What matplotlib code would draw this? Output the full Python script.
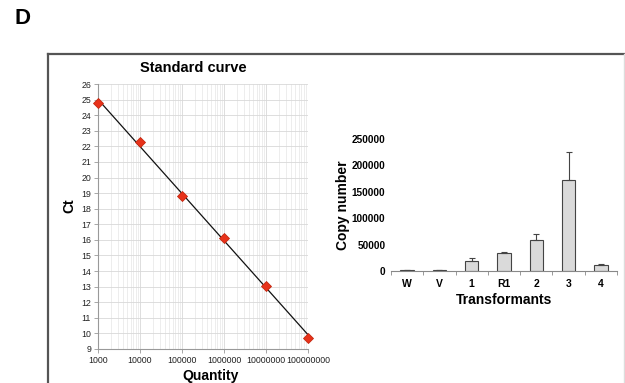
import numpy as np
import matplotlib
matplotlib.use("Agg")
import matplotlib.pyplot as plt
from matplotlib.lines import Line2D
from matplotlib.ticker import LogLocator, FixedLocator, NullFormatter

plt.rcParams['font.family'] = ['Liberation Sans', 'DejaVu Sans']

# Standard curve data
quantity = [1e3, 1e4, 1e5, 1e6, 1e7, 1e8]
ct = [24.78, 22.28, 18.82, 16.13, 13.05, 9.72]
quantity_labels = ['1000', '10000', '100000', '1000000', '10000000', '100000000']

# Bar chart data
transformants = ['W', 'V', '1', 'R1', '2', '3', '4']
copy_number = [2000, 1500, 19500, 33500, 58000, 172000, 10500]
copy_err = [300, 300, 5000, 2000, 12500, 53000, 3000]

fig = plt.figure(figsize=(6.25, 3.83), dpi=100)

# Panel letter
fig.text(15/625, 1-18/383, 'D', fontsize=16, fontweight='bold', ha='left', va='center')

# Border box
fig.add_artist(Line2D([48/625, 48/625], [-0.05, 1-54/383], transform=fig.transFigure,
                      color='#555555', lw=1.6))
fig.add_artist(Line2D([48/625, 1.0], [1-54/383, 1-54/383], transform=fig.transFigure,
                      color='#555555', lw=1.6))
fig.add_artist(Line2D([623.5/625, 623.5/625], [-0.05, 1-54/383], transform=fig.transFigure,
                      color='#dddddd', lw=1.0))

# Left: standard curve
ax1 = fig.add_axes([98/625, 1-349/383, 210/625, 265/383])
ax1.set_xscale('log')
ax1.set_xlim(1e3, 1e8)
ax1.set_ylim(9, 26)
ax1.set_yticks(range(9, 27))
ax1.xaxis.set_major_locator(FixedLocator(quantity))
ax1.set_xticklabels(quantity_labels)
ax1.xaxis.set_minor_locator(LogLocator(base=10, subs=np.arange(2, 10)))
ax1.xaxis.set_minor_formatter(NullFormatter())
ax1.grid(True, which='major', color='#d8d8d8', lw=0.6)
ax1.grid(True, which='minor', axis='x', color='#e6e6e6', lw=0.5)
ax1.set_axisbelow(True)
for s in ['top', 'right']:
    ax1.spines[s].set_visible(False)
for s in ['left', 'bottom']:
    ax1.spines[s].set_color('#999999')
    ax1.spines[s].set_linewidth(0.8)
ax1.tick_params(axis='both', which='major', labelsize=6.3, colors='#999999',
                labelcolor='#222222', length=3, width=0.6, pad=2)
ax1.tick_params(axis='x', which='minor', length=0)

lx = np.log10(quantity)
coef = np.polyfit(lx, ct, 1)
xx = np.array([1e3, 1e8])
ax1.plot(xx, np.polyval(coef, np.log10(xx)), color='#111111', lw=0.9, zorder=3)
ax1.plot(quantity, ct, linestyle='none', marker='D', markersize=5.5,
         markerfacecolor='#e8321a', markeredgecolor='#c42810', markeredgewidth=0.6,
         zorder=4, clip_on=False)

ax1.set_title('Standard curve', fontsize=10.5, fontweight='bold', pad=9, x=0.452)
ax1.set_ylabel('Ct', fontsize=10, fontweight='bold')
ax1.yaxis.set_label_coords(-0.105, 0.54)
ax1.set_xlabel('Quantity', fontsize=10, fontweight='bold')
ax1.xaxis.set_label_coords(0.538, -20/265)

# Right: bar chart
ax2 = fig.add_axes([391/625, 1-271/383, 226/625, 132/383])
x = np.arange(len(transformants))
ax2.bar(x, copy_number, width=0.42, color='#dadada', edgecolor='#444444', linewidth=0.8,
        yerr=[np.zeros(len(copy_err)), copy_err],
        error_kw=dict(ecolor='#444444', elinewidth=0.8, capsize=2.5, capthick=0.8))
ax2.set_xlim(-0.5, len(transformants) - 0.5)
ax2.set_ylim(0, 250000)
ax2.set_yticks(range(0, 250001, 50000))
ax2.set_xticks(x)
ax2.set_xticklabels(transformants)
ax2.set_xticks(np.arange(-0.5, len(transformants), 1.0), minor=True)
for s in ['top', 'right', 'left']:
    ax2.spines[s].set_visible(False)
ax2.spines['bottom'].set_color('#888888')
ax2.spines['bottom'].set_linewidth(0.8)
ax2.tick_params(axis='x', which='major', length=0, labelsize=7.5, pad=6)
ax2.tick_params(axis='x', which='minor', length=3, width=0.6, color='#888888')
ax2.tick_params(axis='y', length=0, labelsize=7.2, pad=4)
for lab in ax2.get_xticklabels() + ax2.get_yticklabels():
    lab.set_fontweight('bold')
ax2.set_ylabel('Copy number', fontsize=10, fontweight='bold', labelpad=1)
ax2.set_xlabel('Transformants', fontsize=10, fontweight='bold', labelpad=3)

fig.savefig('out.png', dpi=100)
